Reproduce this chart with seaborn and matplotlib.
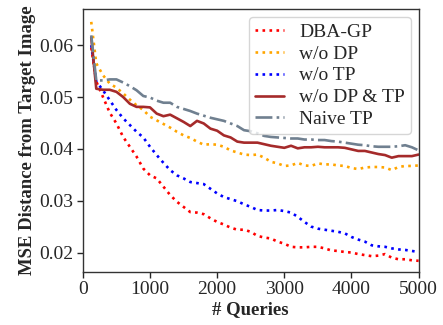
import pandas as pd
import matplotlib
matplotlib.use('Agg')
import matplotlib.pyplot as plt
import seaborn as sns

# Query counts (x axis)
queries = [125] + list(range(200, 5001, 100))

# MSE values
dba_gp = [0.0595, 0.0530, 0.0500, 0.0470, 0.0449, 0.0423, 0.0404, 0.0385, 0.0362, 0.0349,
          0.0343, 0.0327, 0.0311, 0.0298, 0.0288, 0.0278, 0.0277, 0.0274, 0.0266, 0.0259,
          0.0254, 0.0248, 0.0244, 0.0244, 0.0240, 0.0232, 0.0229, 0.0227, 0.0221, 0.0217,
          0.0211, 0.0210, 0.0210, 0.0211, 0.0211, 0.0208, 0.0204, 0.0203, 0.0201, 0.0200,
          0.0197, 0.0195, 0.0193, 0.0194, 0.0197, 0.0190, 0.0187, 0.0187, 0.0185, 0.0184]
wo_dp = [0.0645, 0.0565, 0.0542, 0.0526, 0.0518, 0.0507, 0.0495, 0.0484, 0.0475, 0.0462,
         0.0455, 0.0448, 0.0441, 0.0433, 0.0426, 0.0421, 0.0414, 0.0408, 0.0409, 0.0408,
         0.0404, 0.0397, 0.0393, 0.0389, 0.0388, 0.0389, 0.0383, 0.0375, 0.0372, 0.0367,
         0.0368, 0.0373, 0.0368, 0.0367, 0.0372, 0.0370, 0.0370, 0.0368, 0.0367, 0.0363,
         0.0361, 0.0364, 0.0365, 0.0365, 0.0364, 0.0359, 0.0365, 0.0367, 0.0367, 0.0368]
wo_tp = [0.0600, 0.0530, 0.0513, 0.0494, 0.0475, 0.0459, 0.0446, 0.0433, 0.0422, 0.0404,
         0.0388, 0.0373, 0.0359, 0.0349, 0.0343, 0.0336, 0.0334, 0.0332, 0.0323, 0.0314,
         0.0307, 0.0303, 0.0299, 0.0293, 0.0288, 0.0282, 0.0281, 0.0281, 0.0282, 0.0280,
         0.0277, 0.0269, 0.0259, 0.0250, 0.0246, 0.0244, 0.0242, 0.0240, 0.0237, 0.0230,
         0.0225, 0.0221, 0.0214, 0.0212, 0.0211, 0.0208, 0.0206, 0.0205, 0.0203, 0.0201]
wo_dp_tp = [0.0615, 0.0516, 0.0514, 0.0514, 0.0510, 0.0500, 0.0487, 0.0481, 0.0481, 0.0480,
            0.0468, 0.0463, 0.0466, 0.0459, 0.0452, 0.0444, 0.0454, 0.0449, 0.0439, 0.0435,
            0.0426, 0.0422, 0.0414, 0.0412, 0.0412, 0.0412, 0.0409, 0.0406, 0.0404, 0.0402,
            0.0406, 0.0401, 0.0403, 0.0403, 0.0404, 0.0403, 0.0403, 0.0403, 0.0402, 0.0399,
            0.0396, 0.0396, 0.0393, 0.0390, 0.0388, 0.0383, 0.0386, 0.0386, 0.0386, 0.0389]
naive_tp = [0.0619, 0.0532, 0.0532, 0.0534, 0.0534, 0.0528, 0.0521, 0.0513, 0.0502, 0.0499,
            0.0493, 0.0489, 0.0489, 0.0481, 0.0477, 0.0473, 0.0468, 0.0464, 0.0460, 0.0457,
            0.0454, 0.0449, 0.0444, 0.0436, 0.0434, 0.0430, 0.0425, 0.0423, 0.0422, 0.0421,
            0.0420, 0.0420, 0.0418, 0.0418, 0.0417, 0.0417, 0.0415, 0.0414, 0.0412, 0.0410,
            0.0408, 0.0407, 0.0405, 0.0404, 0.0404, 0.0404, 0.0405, 0.0407, 0.0403, 0.0397]

series = [
    ('DBA-GP', dba_gp, 'red', ':'),
    ('w/o DP', wo_dp, 'orange', ':'),
    ('w/o TP', wo_tp, 'blue', ':'),
    ('w/o DP & TP', wo_dp_tp, 'brown', '-'),
    ('Naive TP', naive_tp, 'slategray', '-.'),
]

sns.set_style('ticks')
plt.rcParams['font.family'] = ['Liberation Serif', 'DejaVu Serif']

fig, ax = plt.subplots(figsize=(4.43, 3.25), dpi=100)
for name, vals, color, ls in series:
    df = pd.DataFrame({'Queries': queries, 'MSE': vals})
    sns.lineplot(data=df, x='Queries', y='MSE', ax=ax, color=color,
                 linestyle=ls, linewidth=1.9, label=name)

ax.set_xlim(0, 5000)
ax.set_ylim(0.0163, 0.0669)
ax.set_xticks([0, 1000, 2000, 3000, 4000, 5000])
ax.set_yticks([0.02, 0.03, 0.04, 0.05, 0.06])
ax.tick_params(labelsize=14, direction='out', length=4, width=1, pad=3)
for sp in ax.spines.values():
    sp.set_linewidth(1.0)
    sp.set_color('#333333')

ax.set_xlabel('# Queries', fontsize=13.5, fontweight='bold', labelpad=2)
ax.set_ylabel('MSE Distance from Target Image', fontsize=13.5, fontweight='bold', labelpad=2)
ax.legend(loc='upper right', fontsize=14, handlelength=1.5, borderpad=0.3,
          labelspacing=0.22, handletextpad=0.8, borderaxespad=0.4)

fig.subplots_adjust(left=0.187, right=0.945, top=0.971, bottom=0.164)
fig.savefig('out.png', dpi=100)
